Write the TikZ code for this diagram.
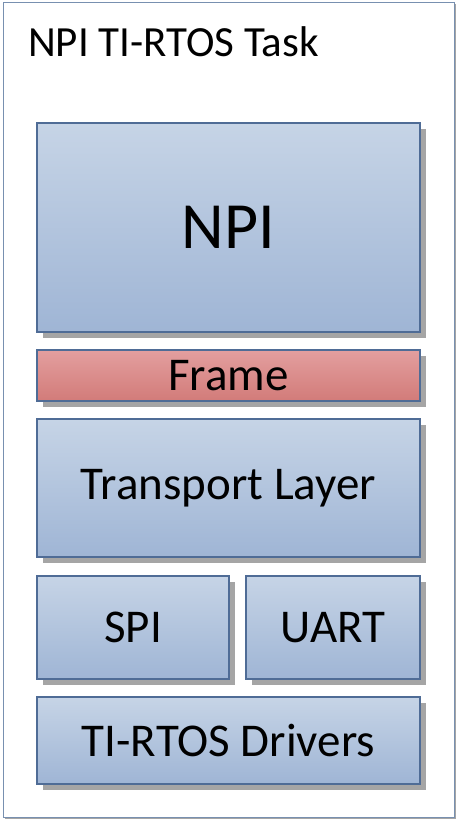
\documentclass[tikz,border=0pt]{standalone}
\usepackage{fontspec}
\setmainfont{Carlito}
\usetikzlibrary{shadows}

\definecolor{bordbleu}{HTML}{4F6C96}
\definecolor{hautbleu}{HTML}{C6D4E6}
\definecolor{basbleu}{HTML}{9FB5D5}
\definecolor{hautrouge}{HTML}{E39F9F}
\definecolor{basrouge}{HTML}{D27B79}
\definecolor{ombre}{HTML}{A5A5A5}
\definecolor{cadre}{HTML}{7890B0}

\tikzset{
 couche/.style={draw=bordbleu, line width=1.3pt, top color=hautbleu, bottom color=basbleu, inner sep=0pt,
   drop shadow={shadow xshift=6pt, shadow yshift=-6pt, fill=ombre, opacity=1},
   font=\fontsize{47}{54}\selectfont},
 rouge/.style={couche, top color=hautrouge, bottom color=basrouge}
}

\begin{document}
\begin{tikzpicture}[x=1pt, y=1pt]
 \useasboundingbox (0,0) rectangle (458,821);
 % le cadre de la tâche
 \node (tache) [draw=cadre, line width=1pt, fill=white, minimum width=451pt, minimum height=815pt,
   drop shadow={shadow xshift=1.5pt, shadow yshift=-1.5pt, fill=ombre, opacity=1}] at (228.5,410.5) {};
 \node (titre) [anchor=base west, inner sep=0pt, font=\fontsize{43}{50}\selectfont] at (28,764) {NPI TI-RTOS Task};

 % les couches
 \node (npi) [couche, minimum width=383pt, minimum height=209pt, font=\fontsize{66}{76}\selectfont] at (228.5,593.5) {NPI};
 \node (frame) [rouge, minimum width=383pt, minimum height=51pt] at (228.5,445.5) {Frame};
 \node (transport) [couche, minimum width=383pt, minimum height=138pt] at (228.5,333) {Transport Layer};
 \node (spi) [couche, minimum width=192pt, minimum height=103pt] at (133,193.5) {SPI};
 \node (uart) [couche, minimum width=174pt, minimum height=103pt] at (333,193.5) {UART};
 \node (drivers) [couche, minimum width=383pt, minimum height=87pt] at (228.5,80.5) {TI-RTOS Drivers};
\end{tikzpicture}
\end{document}
